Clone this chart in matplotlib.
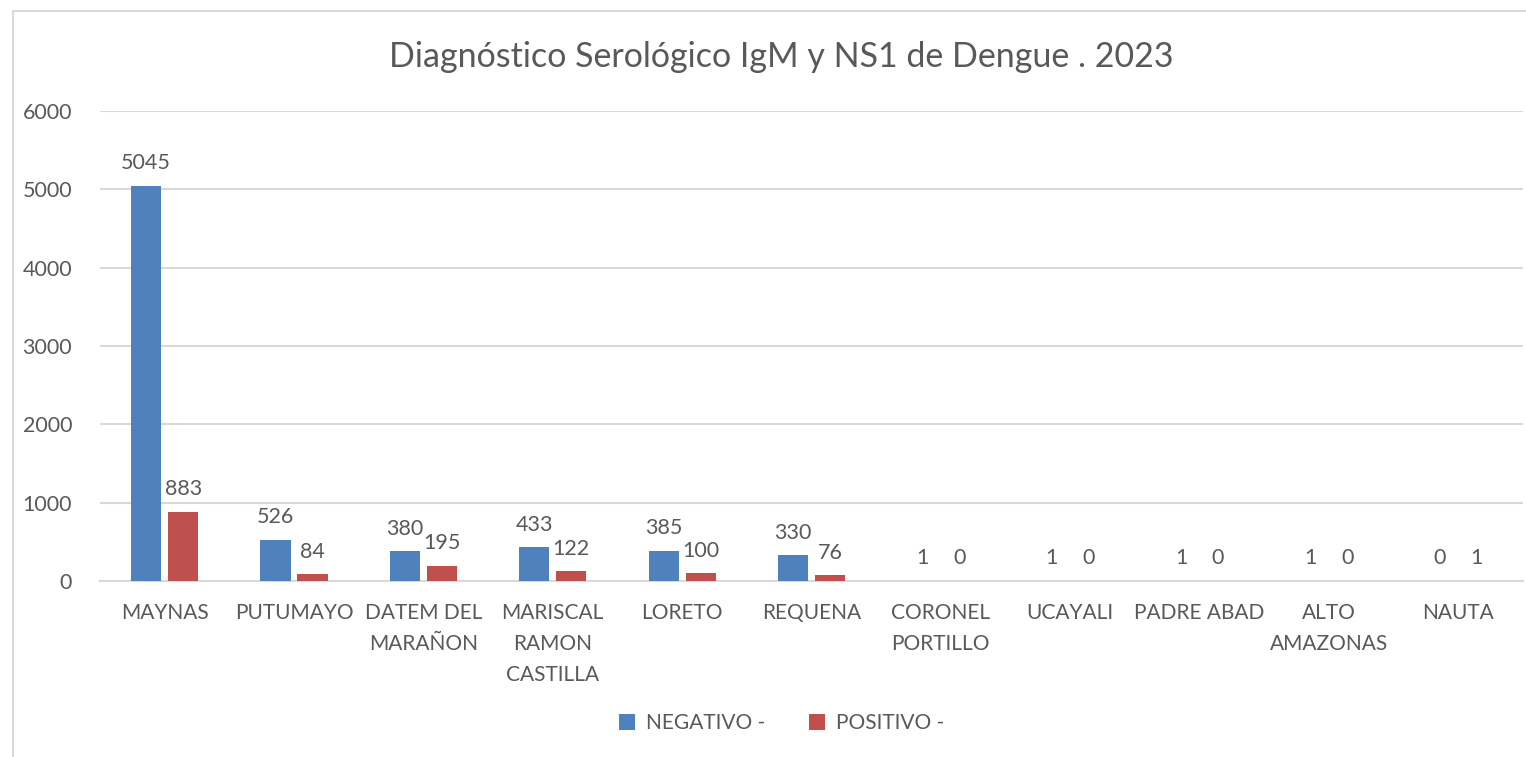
import numpy as np
import matplotlib
matplotlib.use("Agg")
import matplotlib.pyplot as plt
from matplotlib.patches import Rectangle

# Datos
provincias = ["MAYNAS", "PUTUMAYO", "DATEM DEL\nMARAÑON", "MARISCAL\nRAMON\nCASTILLA",
              "LORETO", "REQUENA", "CORONEL\nPORTILLO", "UCAYALI", "PADRE ABAD",
              "ALTO\nAMAZONAS", "NAUTA"]
negativo = [5045, 526, 380, 433, 385, 330, 1, 1, 1, 1, 0]
positivo = [883, 84, 195, 122, 100, 76, 0, 0, 0, 0, 1]
yticks = [0, 1000, 2000, 3000, 4000, 5000, 6000]

AZUL = '#4F81BD'
ROJO = '#C0504D'
GRIS_TXT = '#595959'
GRIS_LIN = '#D9D9D9'

plt.rcParams['font.family'] = ['Lato', 'DejaVu Sans']

fig = plt.figure(figsize=(15.26, 7.57), dpi=100)
ax = fig.add_axes([0.0655, 0.2325, 0.9325, 0.621])

# Marco del gráfico (estilo Excel)
fig.patches.append(Rectangle((13 / 1526, -0.05), 1.2, 1 - 11 / 757 + 0.05,
                             transform=fig.transFigure, fill=False,
                             edgecolor=GRIS_LIN, linewidth=1.5))

x = np.arange(len(provincias))
ancho = 0.232
off = 0.143
b1 = ax.bar(x - off, negativo, ancho, color=AZUL, label='NEGATIVO -', zorder=3)
b2 = ax.bar(x + off, positivo, ancho, color=ROJO, label='POSITIVO -', zorder=3)

for barras in (b1, b2):
    ax.bar_label(barras, padding=9, fontsize=15.5, color=GRIS_TXT)

ax.set_xlim(-0.5, len(provincias) - 0.5)
ax.set_ylim(0, 6000)
ax.set_yticks(yticks)
ax.set_yticklabels([str(v) for v in yticks], fontsize=15.5, color=GRIS_TXT)
ax.set_xticks(x)
ax.set_xticklabels(provincias, fontsize=15, color=GRIS_TXT, linespacing=1.68,
                   va='top')
ax.tick_params(axis='both', length=0)
ax.tick_params(axis='y', pad=20)
ax.tick_params(axis='x', pad=16)

ax.grid(axis='y', color=GRIS_LIN, linewidth=1.5, zorder=0)
for lado in ['top', 'right', 'left']:
    ax.spines[lado].set_visible(False)
ax.spines['bottom'].set_color(GRIS_LIN)
ax.spines['bottom'].set_linewidth(1.5)

fig.text(0.512, 0.925, 'Diagnóstico Serológico IgM y NS1 de Dengue . 2023',
         ha='center', va='center', fontsize=24.5, color=GRIS_TXT)

fig.legend(handles=[b1, b2], loc='center', bbox_to_anchor=(0.512, 0.045),
           ncol=2, frameon=False, fontsize=15, labelcolor=GRIS_TXT,
           handlelength=0.8, handleheight=0.8, columnspacing=2.1,
           handletextpad=0.5)

fig.savefig('out.png', dpi=100)
